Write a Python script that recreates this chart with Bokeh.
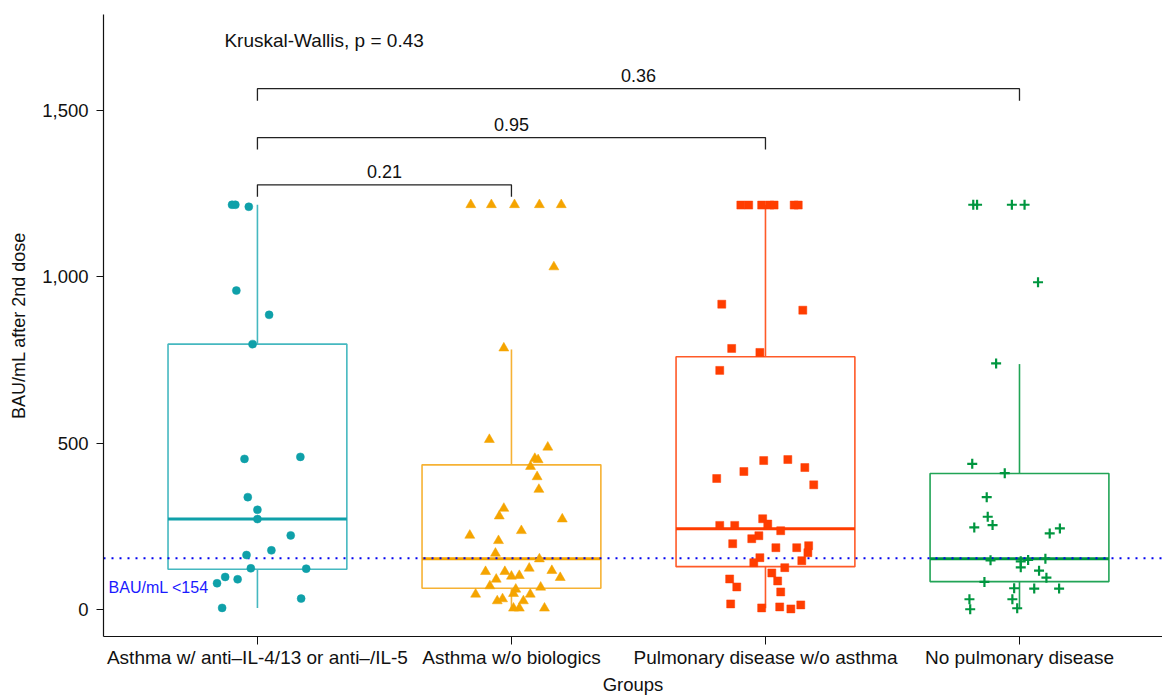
import numpy as np
from bokeh.plotting import figure
from bokeh.models import FixedTicker, NumeralTickFormatter, Range1d, ColumnDataSource
from bokeh.embed import file_html
from bokeh.resources import INLINE
from bokeh.core.properties import value

# ---------------- data ----------------
groups = ["Asthma w/ anti\u2013IL-4/13 or anti\u2013/IL-5", "Asthma w/o biologics",
          "Pulmonary disease w/o asthma", "No pulmonary disease"]

g1_vals = [1217, 1217, 1211, 959, 886, 798, 453, 459, 338, 300, 272, 223, 178, 164,
           124, 123, 98, 91, 79, 33, 5]
g1_jit = [-0.100, -0.087, -0.034, -0.083, 0.046, -0.019, -0.051, 0.169, -0.038, 0.0, 0.0,
          0.131, 0.055, -0.043, -0.026, 0.192, -0.127, -0.078, -0.159, 0.172, -0.139]

g2_vals = [1217, 1217, 1217, 1217, 1217, 1030, 786, 511, 488, 454, 450, 430, 399, 361, 304,
           281, 272, 237, 223, 207, 169, 152, 114, 124, 117, 114, 100, 102, 96, 91, 71, 67,
           61, 46, 48, 46, 32, 26, 26, 4, 4, 4]
g2_jit = [-0.160, -0.079, 0.012, 0.110, 0.196, 0.167, -0.030, -0.087, 0.143, 0.092, 0.105,
          0.075, 0.101, 0.108, -0.030, -0.048, 0.200, 0.039, -0.164, -0.051, -0.063, 0.110,
          -0.102, 0.070, 0.159, -0.026, 0.0, 0.031, 0.192, -0.060, -0.085, 0.115, 0.017,
          -0.141, 0.008, 0.074, -0.035, -0.056, 0.047, 0.008, 0.031, 0.130]

g3_vals = [1216, 1216, 1216, 1216, 1216, 1216, 1216, 918, 900, 785, 773, 719, 448, 451, 427,
           415, 394, 375, 273, 257, 253, 253, 237, 222, 213, 198, 186, 186, 192, 171, 156,
           141, 147, 126, 110, 92, 86, 68, 53, 17, 5, 8, 2, 14]
g3_jit = [-0.097, -0.066, -0.015, 0.017, 0.034, 0.113, 0.129, -0.172, 0.147, -0.133, -0.022,
          -0.180, -0.007, 0.088, 0.155, -0.085, -0.192, 0.190, -0.011, 0.009, -0.180, -0.121,
          0.060, -0.026, -0.054, -0.129, 0.041, 0.123, 0.170, 0.167, -0.022, -0.046, 0.143,
          0.076, 0.025, -0.141, 0.048, -0.113, 0.060, -0.137, -0.015, 0.056, 0.100, 0.139]

g4_vals = [1217, 1217, 1217, 1217, 984, 740, 438, 410, 338, 279, 254, 247, 244, 229, 148,
           145, 149, 153, 127, 117, 96, 83, 64, 63, 63, 31, 31, 1, 4]
g4_jit = [-0.182, -0.167, -0.030, 0.020, 0.073, -0.092, -0.186, -0.058, -0.129, -0.125,
          -0.106, -0.178, 0.159, 0.119, -0.114, 0.005, 0.034, 0.102, 0.005, 0.077, 0.106,
          -0.138, -0.021, 0.058, 0.156, -0.197, -0.028, -0.194, -0.009]

# box-plot statistics per group
box_q1 = [121, 64, 129, 84]
box_med = [272, 153, 243, 153]
box_q3 = [798, 435, 760, 409]
box_lo = [5, 0, 4, 1]
box_hi = [1217, 782, 1216, 738]

threshold = 154
threshold_label = "BAU/mL <154"
kw_label = "Kruskal-Wallis, p = 0.43"
cmp_pairs = [(1, 2), (1, 3), (1, 4)]
cmp_p = ["0.21", "0.95", "0.36"]
cmp_y = [1277, 1419, 1566]

# ---------------- styling ----------------
pt_colors = ["#0FA0A9", "#F5A400", "#FF3D00", "#00963F"]
box_colors = ["#45B8C0", "#F6B234", "#FF5A28", "#21A456"]
FONT = "Liberation Sans"
X0, X1 = 0.394, 4.563

p = figure(width=1162, height=697, output_backend="svg", toolbar_location=None,
           x_range=Range1d(X0, X1), y_range=Range1d(-81, 1789),
           min_border_left=103, min_border_top=14, min_border_right=0, min_border_bottom=20)
p.outline_line_color = None
p.xgrid.visible = False
p.ygrid.visible = False
p.background_fill_color = "white"

xs = np.arange(1, 5)
hw = 0.352
src_box = ColumnDataSource(dict(x=xs, left=xs - hw, right=xs + hw, q1=box_q1, q3=box_q3,
                                med=box_med, lo=box_lo, hi=box_hi, bc=box_colors, pc=pt_colors))
p.quad(left="left", right="right", bottom="q1", top="q3", source=src_box,
       fill_color=None, line_color="bc", line_width=1.6)
p.segment(x0="x", y0="q3", x1="x", y1="hi", source=src_box, line_color="bc", line_width=1.6)
p.segment(x0="x", y0="lo", x1="x", y1="q1", source=src_box, line_color="bc", line_width=1.6)
p.segment(x0="left", y0="med", x1="right", y1="med", source=src_box, line_color="pc", line_width=3)

# threshold dotted line
p.segment(x0=[X0], y0=[threshold], x1=[X1], y1=[threshold], line_color="#0000F0",
          line_width=2, line_dash="2 6", line_alpha=1.0)
p.text(x=[0.414], y=[threshold - 88], text=[threshold_label], text_color="#1A1AFF",
       text_font=value(FONT), text_font_size="16px", text_baseline="middle", text_align="left")

vals = [g1_vals, g2_vals, g3_vals, g4_vals]
jits = [g1_jit, g2_jit, g3_jit, g4_jit]
markers = ["circle", "triangle", "square", "cross"]
sizes = [8, 10, 8, 10]
for i in range(4):
    x = [i + 1 + j for j in jits[i]]
    if markers[i] == "cross":
        p.scatter(x=x, y=vals[i], marker="cross", size=sizes[i], line_color=pt_colors[i],
                  line_width=2.2)
    else:
        p.scatter(x=x, y=vals[i], marker=markers[i], size=sizes[i], fill_color=pt_colors[i],
                  line_color=pt_colors[i], line_width=0.5)

# comparison brackets
tip = 36
for (a, b), lab, yy in zip(cmp_pairs, cmp_p, cmp_y):
    p.line(x=[a, a, b, b], y=[yy - tip, yy, yy, yy - tip], line_color="#222222", line_width=1.3)
    p.text(x=[(a + b) / 2], y=[yy + 40], text=[lab], text_font=value(FONT),
           text_font_size="18px", text_align="center", text_baseline="middle", text_color="#111111")

p.text(x=[0.87], y=[1711], text=[kw_label], text_font=value(FONT), text_font_size="19px",
       text_align="left", text_baseline="middle", text_color="#111111")

# axes
p.xaxis.ticker = FixedTicker(ticks=[1, 2, 3, 4])
p.xaxis.major_label_overrides = {i + 1: g for i, g in enumerate(groups)}
p.xaxis.axis_label = "Groups"
p.yaxis.ticker = FixedTicker(ticks=[0, 500, 1000, 1500])
p.yaxis.formatter = NumeralTickFormatter(format="0,0")
p.yaxis.axis_label = "BAU/mL after 2nd dose"
for ax in (p.xaxis[0], p.yaxis[0]):
    ax.minor_tick_line_color = None
    ax.major_tick_in = 0
    ax.major_tick_out = 8
    ax.axis_line_color = "#111111"
    ax.major_tick_line_color = "#111111"
    ax.axis_line_width = 1.2
    ax.major_label_text_font = FONT
    ax.axis_label_text_font = FONT
    ax.axis_label_text_font_style = "normal"
    ax.major_label_text_color = "#111111"
    ax.axis_label_text_color = "#111111"
p.yaxis.major_tick_out = 7
p.xaxis.major_label_text_font_size = "19px"
p.xaxis.axis_label_text_font_size = "18.5px"
p.xaxis.major_label_standoff = 2
p.xaxis.axis_label_standoff = 3
p.yaxis.major_label_text_font_size = "18.5px"
p.yaxis.axis_label_text_font_size = "18px"
p.yaxis.major_label_standoff = 8
p.yaxis.axis_label_standoff = 10

open("out.html", "w").write(file_html(p, INLINE))
